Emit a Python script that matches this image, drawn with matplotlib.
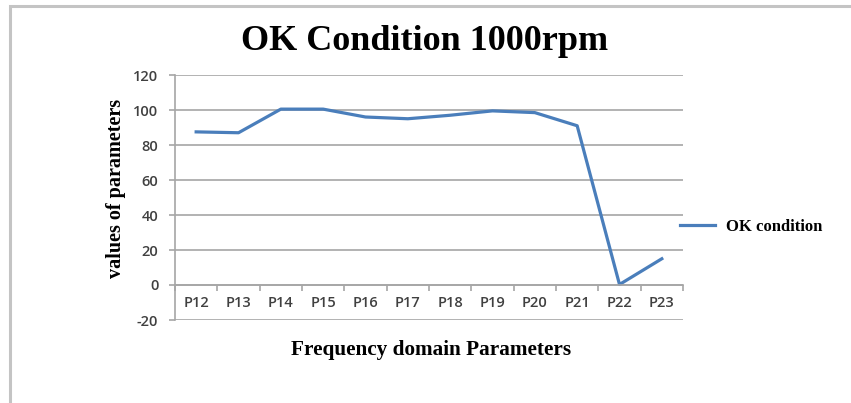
import matplotlib.pyplot as plt
from matplotlib.patches import Rectangle
from matplotlib.ticker import FixedLocator

plt.rcParams["axes.unicode_minus"] = False

categories = ["P12", "P13", "P14", "P15", "P16", "P17",
              "P18", "P19", "P20", "P21", "P22", "P23"]
ok_values = [87.5, 87, 100.5, 100.5, 96, 95, 97, 99.5, 98.5, 91, 0.3, 15]
y_ticks = [-20, 0, 20, 40, 60, 80, 100, 120]

W, H = 851, 403
fig = plt.figure(figsize=(W / 100, H / 100), dpi=100)
fig.patch.set_facecolor("white")

# outer chart frame (top-left corner visible, rest cut off)
fig.add_artist(Rectangle((9.5 / W, -0.1), 1.2, 1.1 - 5.5 / H,
                         transform=fig.transFigure, fill=False,
                         edgecolor="#c4c4c4", lw=2.2))

ax = fig.add_axes([175 / W, 1 - 320 / H, (683 - 175) / W, (320 - 75) / H])

x = list(range(len(categories)))
ax.plot(x, ok_values, color="#4a7ebb", lw=2.3, label="OK condition",
        solid_joinstyle="round")

ax.set_xlim(-0.5, len(categories) - 0.5)
ax.set_ylim(-20, 120)
ax.set_yticks(y_ticks)
ax.yaxis.grid(True, color="#a6a6a6", lw=1.2)
ax.set_axisbelow(True)

for side in ("top", "right"):
    ax.spines[side].set_visible(False)
ax.spines["left"].set_color("#a6a6a6")
ax.spines["left"].set_linewidth(1.2)
ax.spines["bottom"].set_position(("data", 0))
ax.spines["bottom"].set_color("#a6a6a6")
ax.spines["bottom"].set_linewidth(1.2)

ax.set_xticks(x)
ax.set_xticklabels(categories)
ax.xaxis.set_minor_locator(FixedLocator([i - 0.5 for i in range(len(categories) + 1)]))
ax.tick_params(axis="x", which="major", length=0, pad=8,
               labelsize=10.5, labelcolor="#404040")
ax.tick_params(axis="x", which="minor", length=4, color="#a6a6a6", width=1.2)
ax.tick_params(axis="y", length=4, color="#a6a6a6", width=1.2, pad=8,
               labelsize=10.5, labelcolor="#404040")
for lab in ax.get_xticklabels() + ax.get_yticklabels():
    lab.set_fontfamily("Open Sans")
    lab.set_fontweight("semibold")

fig.text(425 / W, 1 - 42 / H, "OK Condition 1000rpm", ha="center", va="center",
         family="Liberation Serif", fontweight="bold", fontsize=26)
fig.text(116 / W, 1 - 188 / H, "values of parameters", ha="center", va="center",
         rotation=90, family="Liberation Serif", fontweight="bold", fontsize=14.5)
fig.text(431 / W, 1 - 350 / H, "Frequency domain Parameters", ha="center",
         va="center", family="Liberation Serif", fontweight="bold", fontsize=15.3)

leg = ax.legend(loc="center left", bbox_to_anchor=(680 / W, 1 - 227 / H),
                bbox_transform=fig.transFigure, frameon=False,
                borderpad=0, borderaxespad=0,
                handlelength=2.1, handletextpad=0.65,
                prop={"family": "Liberation Serif", "weight": "bold", "size": 12})

fig.savefig("out.png", dpi=100, facecolor="white")
